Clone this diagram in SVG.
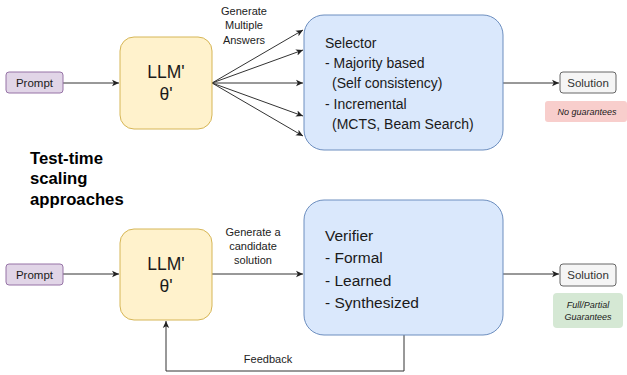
<svg xmlns="http://www.w3.org/2000/svg" width="627" height="375" viewBox="0 0 627 375">
<style>
text{font-family:"Liberation Sans",Arial,sans-serif;fill:#1a1a1a}
.prompt{fill:#e1d5e7;stroke:#9673a6;stroke-width:1}
.llm{fill:#fff2cc;stroke:#d6b656;stroke-width:1}
.blue{fill:#dae8fc;stroke:#6c8ebf;stroke-width:1}
.sol{fill:#f5f5f5;stroke:#666666;stroke-width:1}
.edge{fill:none;stroke:#333;stroke-width:1}
.lbl{font-size:11px;text-anchor:middle;fill:#222}
.small{font-size:11.5px;text-anchor:middle}
.it{font-size:9px;font-style:italic;text-anchor:middle}
.title{font-size:16.7px;font-weight:bold;fill:#000}
</style>
<defs>
<marker id="ah" markerWidth="8" markerHeight="8" refX="7" refY="4" orient="auto" markerUnits="userSpaceOnUse">
<path d="M0,0.8 L7,4 L0,7.2 L1.8,4 Z" fill="#222"/>
</marker>
</defs>
<g id="connectors">
<line class="edge" x1="63" y1="83" x2="119" y2="83" marker-end="url(#ah)"/>
<line class="edge" x1="212" y1="83" x2="303" y2="30" marker-end="url(#ah)"/>
<line class="edge" x1="212" y1="83" x2="303" y2="50" marker-end="url(#ah)"/>
<line class="edge" x1="212" y1="83" x2="303" y2="83" marker-end="url(#ah)"/>
<line class="edge" x1="212" y1="83" x2="303" y2="116" marker-end="url(#ah)"/>
<line class="edge" x1="212" y1="83" x2="303" y2="136" marker-end="url(#ah)"/>
<line class="edge" x1="503" y1="83" x2="559" y2="83" marker-end="url(#ah)"/>
<line class="edge" x1="63" y1="274" x2="119" y2="274" marker-end="url(#ah)"/>
<line class="edge" x1="212" y1="274" x2="303" y2="274" marker-end="url(#ah)"/>
<line class="edge" x1="503" y1="274" x2="559" y2="274" marker-end="url(#ah)"/>
<path class="edge" d="M404,335 V371 H166 V321" marker-end="url(#ah)"/>
<text class="lbl" x="244" y="15">Generate</text>
<text class="lbl" x="244" y="29">Multiple</text>
<text class="lbl" x="244" y="44">Answers</text>
<text class="lbl" x="253" y="236">Generate a</text>
<text class="lbl" x="253" y="250">candidate</text>
<text class="lbl" x="253" y="264">solution</text>
<text class="lbl" x="268" y="363">Feedback</text>
</g>
<g id="prompt1">
<rect class="prompt" x="6" y="72" width="57" height="21" rx="3"/>
<text class="small" x="34.5" y="86.5">Prompt</text>
</g>
<g id="llm1">
<rect class="llm" x="120" y="37" width="92" height="92" rx="14"/>
<text x="166" y="78" font-size="17.5" text-anchor="middle">LLM'</text>
<text x="166" y="100" font-size="17.5" text-anchor="middle">θ'</text>
</g>
<g id="selector">
<rect class="blue" x="304" y="15" width="199" height="135" rx="20"/>
<text x="325" y="48" font-size="14">Selector</text>
<text x="325" y="68" font-size="14">- Majority based</text>
<text x="332" y="88" font-size="14">(Self consistency)</text>
<text x="325" y="109" font-size="14">- Incremental</text>
<text x="332" y="129" font-size="14">(MCTS, Beam Search)</text>
</g>
<g id="solution1">
<rect class="sol" x="560" y="72" width="56" height="21" rx="3"/>
<text class="small" x="588" y="86.5" style="fill:#333">Solution</text>
</g>
<g id="noguarantees">
<rect x="545" y="101" width="82" height="21" rx="3" fill="#f8cecc"/>
<text class="it" x="587" y="115">No guarantees</text>
</g>
<g id="title">
<text class="title" x="30" y="164">Test-time</text>
<text class="title" x="30" y="184">scaling</text>
<text class="title" x="30" y="205">approaches</text>
</g>
<g id="prompt2">
<rect class="prompt" x="6" y="264" width="57" height="21" rx="3"/>
<text class="small" x="34.5" y="278.5">Prompt</text>
</g>
<g id="llm2">
<rect class="llm" x="120" y="229" width="92" height="91" rx="14"/>
<text x="166" y="270" font-size="17.5" text-anchor="middle">LLM'</text>
<text x="166" y="292" font-size="17.5" text-anchor="middle">θ'</text>
</g>
<g id="verifier">
<rect class="blue" x="304" y="200" width="199" height="135" rx="20"/>
<text x="325" y="241" font-size="15.5">Verifier</text>
<text x="325" y="263" font-size="15.5">- Formal</text>
<text x="325" y="286" font-size="15.5">- Learned</text>
<text x="325" y="308" font-size="15.5">- Synthesized</text>
</g>
<g id="solution2">
<rect class="sol" x="560" y="264" width="56" height="22" rx="3"/>
<text class="small" x="588" y="279" style="fill:#333">Solution</text>
</g>
<g id="guarantees">
<rect x="553" y="293" width="70" height="35" rx="4" fill="#d5e8d4"/>
<text class="it" x="588" y="308">Full/Partial</text>
<text class="it" x="588" y="320">Guarantees</text>
</g>
</svg>
